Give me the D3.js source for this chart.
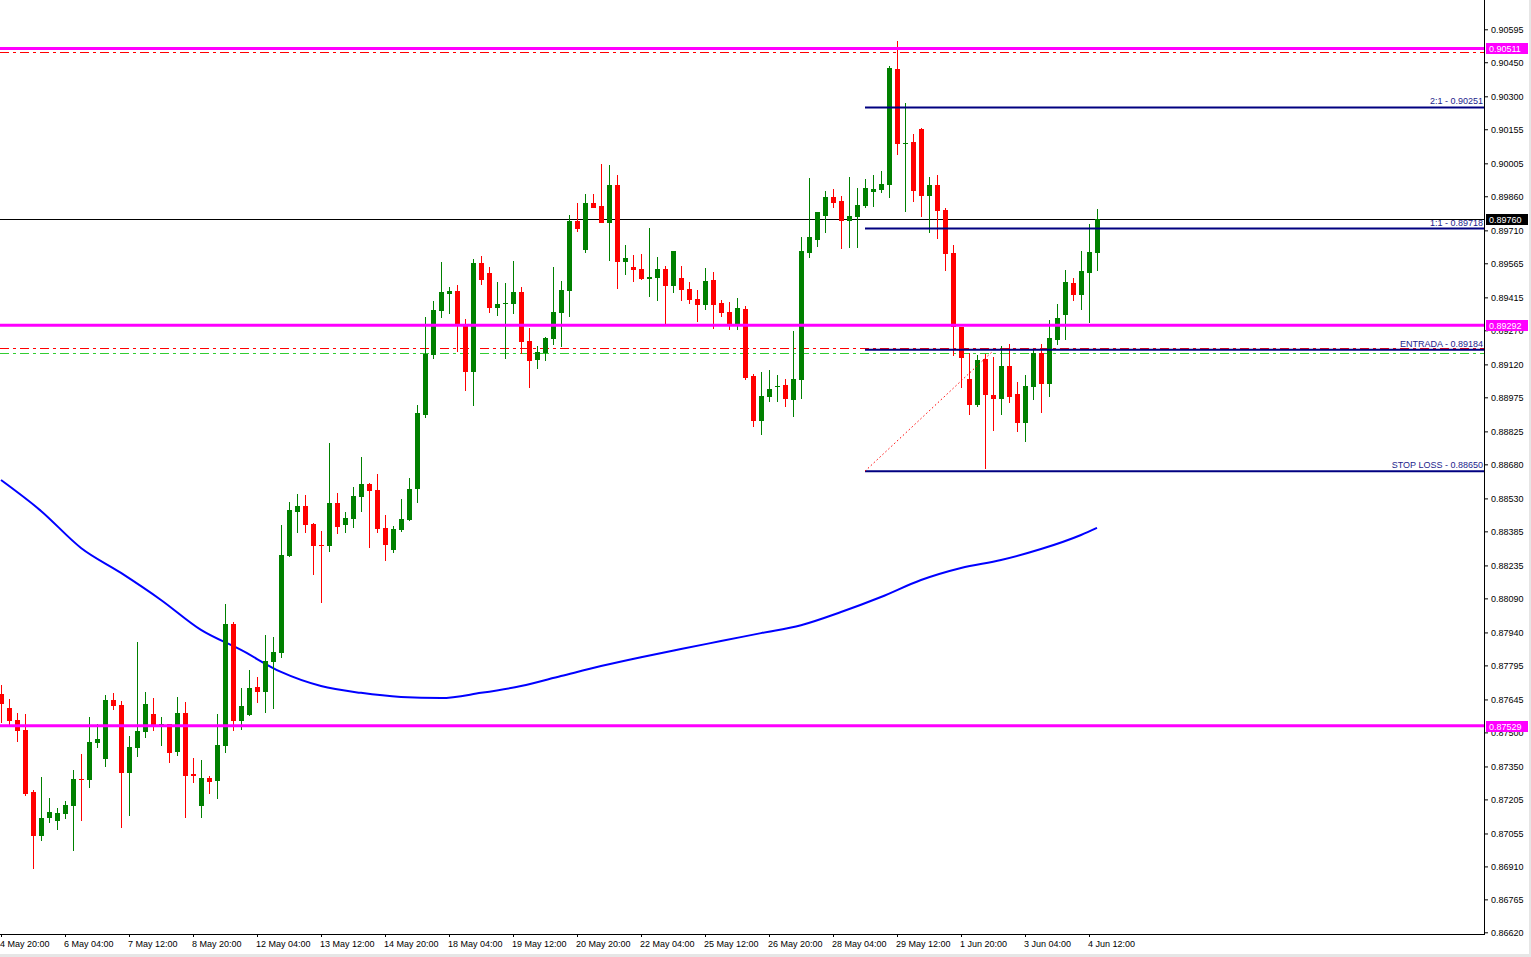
<!DOCTYPE html>
<html><head><meta charset="utf-8">
<script src="https://cdn.jsdelivr.net/npm/d3@7"></script>
<style>
html,body{margin:0;padding:0;background:#fff;}
svg{display:block;font-family:"Liberation Sans",Arial,sans-serif;}
</style></head>
<body><svg id="c" width="1531" height="957"></svg>
<script>
// ---------- DATA ----------
const timeLabels = ["4 May 20:00","6 May 04:00","7 May 12:00","8 May 20:00","12 May 04:00","13 May 12:00","14 May 20:00","18 May 04:00","19 May 12:00","20 May 20:00","22 May 04:00","25 May 12:00","26 May 20:00","28 May 04:00","29 May 12:00","1 Jun 20:00","3 Jun 04:00","4 Jun 12:00"];
const opens = [.87669,.87607,.87555,.87511,.87238,.87044,.87123,.87110,.87141,.87176,.87295,.87291,.87454,.87383,.87643,.87621,.87321,.87431,.87502,.87581,.87528,.87537,.87414,.87585,.87317,.87176,.87299,.87286,.87440,.87977,.87550,.87577,.87699,.87678,.87809,.87849,.88276,.88470,.88497,.88417,.88325,.88321,.88510,.88413,.88439,.88536,.88593,.88567,.88400,.88303,.88391,.88435,.88571,.88897,.89161,.89355,.89431,.89443,.89289,.89087,.89566,.89522,.89368,.89386,.89386,.89439,.89223,.89139,.89170,.89232,.89346,.89443,.89751,.89624,.89830,.89817,.89742,.89910,.89571,.89549,.89540,.89496,.89500,.89540,.89465,.89500,.89452,.89408,.89381,.89491,.89390,.89350,.89293,.89363,.89069,.88871,.88976,.89020,.89029,.88963,.89051,.89610,.89667,.89773,.89857,.89839,.89751,.89769,.89817,.89878,.89887,.89910,.90420,.90090,.90099,.90156,.89861,.89910,.89800,.89610,.89285,.89056,.88941,.89144,.88985,.88967,.89113,.88990,.88862,.89020,.89170,.89034,.89227,.89337,.89478,.89425,.89522,.89610];
const highs = [.87709,.87647,.87585,.87581,.87246,.87304,.87211,.87167,.87198,.87335,.87405,.87568,.87537,.87665,.87674,.87638,.87484,.87898,.87678,.87651,.87568,.87537,.87656,.87634,.87387,.87378,.87308,.87581,.88065,.87986,.87695,.87775,.87743,.87929,.87920,.88413,.88514,.88549,.88545,.88422,.88387,.88774,.88554,.88470,.88580,.88712,.88598,.88637,.88457,.88409,.88527,.88620,.88941,.89329,.89399,.89571,.89461,.89469,.89320,.89584,.89597,.89549,.89482,.89478,.89575,.89461,.89280,.89201,.89241,.89549,.89487,.89778,.89830,.89870,.89870,.90002,.89998,.89954,.89646,.89601,.89605,.89720,.89592,.89553,.89619,.89553,.89482,.89447,.89544,.89527,.89403,.89395,.89412,.89377,.89078,.89087,.89096,.89073,.89056,.89267,.89680,.89940,.89791,.89883,.89892,.89861,.89945,.89896,.89936,.89954,.89971,.90434,.90543,.90271,.90134,.90161,.89945,.89954,.89808,.89646,.89285,.89170,.89161,.89166,.89153,.89201,.89210,.89042,.89073,.89183,.89210,.89315,.89386,.89535,.89500,.89619,.89738,.89804];
const lows = [.87541,.87533,.87458,.87220,.86899,.87022,.87101,.87070,.87119,.86978,.87110,.87255,.87431,.87348,.87599,.87079,.87132,.87392,.87475,.87506,.87440,.87365,.87396,.87123,.87277,.87123,.87229,.87207,.87409,.87506,.87511,.87572,.87629,.87585,.87603,.87827,.88272,.88378,.88378,.88193,.88070,.88294,.88374,.88378,.88400,.88470,.88312,.88378,.88255,.88290,.88382,.88430,.88510,.88884,.89144,.89324,.89342,.89175,.89002,.88937,.89469,.89346,.89333,.89144,.89342,.89166,.89016,.89100,.89135,.89205,.89196,.89329,.89702,.89610,.89808,.89742,.89575,.89452,.89513,.89482,.89491,.89416,.89399,.89293,.89434,.89399,.89386,.89306,.89359,.89276,.89329,.89271,.89271,.89051,.88844,.88809,.88954,.88954,.88932,.88888,.88967,.89588,.89637,.89698,.89808,.89628,.89632,.89632,.89808,.89812,.89874,.89852,.90042,.89791,.89834,.89769,.89698,.89673,.89531,.89157,.89016,.88897,.88932,.88660,.88826,.88897,.88950,.88822,.88778,.88963,.88906,.88976,.89205,.89227,.89399,.89359,.89302,.89531];
const closes = [.87625,.87550,.87506,.87229,.87044,.87123,.87150,.87145,.87180,.87295,.87291,.87458,.87471,.87643,.87616,.87321,.87436,.87506,.87625,.87524,.87537,.87409,.87585,.87308,.87308,.87299,.87282,.87445,.87977,.87550,.87616,.87695,.87678,.87814,.87854,.88281,.88479,.88497,.88413,.88321,.88321,.88510,.88404,.88444,.88540,.88593,.88562,.88396,.88325,.88396,.88439,.88571,.88906,.89166,.89359,.89439,.89443,.89297,.89087,.89566,.89491,.89368,.89386,.89390,.89439,.89219,.89135,.89175,.89236,.89350,.89447,.89751,.89716,.89830,.89808,.89742,.89910,.89571,.89588,.89535,.89496,.89505,.89540,.89465,.89619,.89447,.89403,.89381,.89487,.89381,.89346,.89293,.89368,.89060,.88871,.88981,.89011,.89025,.88967,.89056,.89619,.89680,.89791,.89857,.89830,.89751,.89773,.89821,.89896,.89892,.89914,.90425,.90090,.90095,.89883,.89861,.89910,.89795,.89606,.89285,.89148,.88941,.89139,.88985,.88967,.89113,.88976,.88862,.89025,.89170,.89034,.89236,.89324,.89482,.89425,.89531,.89615,.89760];
const maIdx  = [0,5,10,15,20,25,30,35,40,45,50,55,60,65,70,75,80,85,90,95,100,105,110,115,120,125,130,135,137];
const maVals = [.88611,.88475,.88312,.88202,.88083,.87951,.87863,.87766,.87704,.87674,.87656,.87651,.87674,.87704,.87748,.87792,.87831,.87867,.87902,.87937,.87972,.88030,.88096,.88171,.88224,.88259,.88307,.88369,.88400];
const priceTicks = ["0.90595","0.90450","0.90300","0.90155","0.90005","0.89860","0.89710","0.89565","0.89415","0.89270","0.89120","0.88975","0.88825","0.88680","0.88530","0.88385","0.88235","0.88090","0.87940","0.87795","0.87645","0.87500","0.87350","0.87205","0.87055","0.86910","0.86765","0.86620"];
const magentaLevels = [0.90511, 0.89292, 0.87529];
const redDashLevels = [0.90495, 0.89190];
const greenDashLevels = [0.89170];
const currentPrice = 0.89760;
const tradeLabels = ["2:1 - 0.90251","1:1 - 0.89718","ENTRADA - 0.89184","STOP LOSS - 0.88650"];
const tradeLevels = [0.90251, 0.89718, 0.89184, 0.88650];
const tradeStartIdx = 108;
const trendIdx = [108, 124];
const trendVals = [0.88650, 0.89179];

// ---------- SCALES ----------
const svg = d3.select("#c");
const W = 1484, H = 934;
const x = d3.scaleLinear().domain([0, 137]).range([1, 1097]);
const y = d3.scaleLinear().domain([0.86620, 0.90595]).range([932.3, 29.3]);
const fmt = d3.format(".5f");

svg.append("rect").attr("width",1531).attr("height",957).attr("fill","#fff");
svg.append("rect").attr("x",0).attr("y",954).attr("width",1531).attr("height",3).attr("fill","#e6e6e6");
svg.append("rect").attr("x",1529).attr("y",0).attr("width",2).attr("height",957).attr("fill","#e6e6e6");

const plot = svg.append("g");
const cross = "crispEdges";

// dashed reference lines
plot.selectAll(".rd").data(redDashLevels).join("line")
  .attr("x1",0).attr("x2",W).attr("y1",d=>Math.round(y(d))+0.5).attr("y2",d=>Math.round(y(d))+0.5)
  .attr("stroke","#ff0000").attr("stroke-width",1).attr("stroke-dasharray","9,4,3,4").attr("shape-rendering",cross);
plot.selectAll(".gd").data(greenDashLevels).join("line")
  .attr("x1",0).attr("x2",W).attr("y1",d=>Math.round(y(d))+0.5).attr("y2",d=>Math.round(y(d))+0.5)
  .attr("stroke","#32cd32").attr("stroke-width",1).attr("stroke-dasharray","9,4,3,4").attr("shape-rendering",cross);

// moving average
const maData = maIdx.map((k,i)=>[k, maVals[i]]);
plot.append("path").datum(maData)
  .attr("d", d3.line().x(d=>x(d[0])).y(d=>y(d[1])).curve(d3.curveMonotoneX))
  .attr("fill","none").attr("stroke","#0000ff").attr("stroke-width",2);

// current price line
plot.append("line").attr("x1",0).attr("x2",W)
  .attr("y1",Math.round(y(currentPrice))+0.5).attr("y2",Math.round(y(currentPrice))+0.5)
  .attr("stroke","#000").attr("stroke-width",1).attr("shape-rendering",cross);

// candles
const candles = opens.map((o,i)=>({i, o, h:highs[i], l:lows[i], c:closes[i]}));
const cg = plot.append("g").attr("shape-rendering",cross);
cg.selectAll("line").data(candles).join("line")
  .attr("x1",d=>x(d.i)+0.5).attr("x2",d=>x(d.i)+0.5)
  .attr("y1",d=>y(d.h)).attr("y2",d=>y(d.l))
  .attr("stroke",d=>d.c>=d.o?"#008000":"#ff0000").attr("stroke-width",1);
cg.selectAll("rect").data(candles).join("rect")
  .attr("x",d=>x(d.i)-2).attr("width",5)
  .attr("y",d=>y(Math.max(d.o,d.c)))
  .attr("height",d=>Math.max(1, Math.abs(y(d.o)-y(d.c))))
  .attr("fill",d=>d.c>=d.o?"#008000":"#ff0000");

// magenta levels
plot.selectAll(".mg").data(magentaLevels).join("line")
  .attr("x1",0).attr("x2",W).attr("y1",d=>y(d)).attr("y2",d=>y(d))
  .attr("stroke","#ff00ff").attr("stroke-width",3);

// trade levels
plot.selectAll(".tl").data(tradeLevels).join("line")
  .attr("x1",x(tradeStartIdx)).attr("x2",W).attr("y1",d=>y(d)).attr("y2",d=>y(d))
  .attr("stroke","#000080").attr("stroke-width",2);
plot.selectAll(".tt").data(tradeLabels).join("text")
  .attr("x",W-1).attr("y",(d,i)=>y(tradeLevels[i])-3)
  .attr("text-anchor","end").attr("font-size","9px").attr("fill","#1c1c8c").text(d=>d);

// dotted trend line
plot.append("line")
  .attr("x1",x(trendIdx[0])).attr("y1",y(trendVals[0]))
  .attr("x2",x(trendIdx[1])).attr("y2",y(trendVals[1]))
  .attr("stroke","#ff0000").attr("stroke-width",1).attr("stroke-dasharray","1.5,2.5");

// frame
svg.append("line").attr("x1",W+0.5).attr("x2",W+0.5).attr("y1",0).attr("y2",H+0.5).attr("stroke","#000").attr("shape-rendering",cross);
svg.append("line").attr("x1",0).attr("x2",W+0.5).attr("y1",H+0.5).attr("y2",H+0.5).attr("stroke","#000").attr("shape-rendering",cross);

// right price axis
const yAxis = d3.axisRight(y).tickValues(priceTicks.map(Number)).tickSize(3).tickPadding(3).tickFormat(fmt);
const ya = svg.append("g").attr("transform",`translate(${W+1},0)`).call(yAxis);
ya.select(".domain").remove();
ya.selectAll("text").attr("font-size","9px").attr("font-family","'Liberation Sans',Arial,sans-serif").attr("fill","#000");
ya.selectAll("line").attr("stroke","#000");

// bottom time axis
const tickIdx = timeLabels.map((_,i)=>i*8);
const xAxis = d3.axisBottom(x).tickValues(tickIdx).tickSize(3).tickFormat((d,i)=>timeLabels[i]);
const xa = svg.append("g").attr("transform",`translate(0,${H})`).call(xAxis);
xa.select(".domain").remove();
xa.selectAll("line").attr("stroke","#000");
xa.selectAll("text").attr("font-size","9px").attr("font-family","'Liberation Sans',Arial,sans-serif")
  .attr("text-anchor","start").attr("dx","-1.5").attr("y",7).attr("fill","#000");

// price boxes
const boxes = magentaLevels.map(v=>({v, bg:"#ff00ff"})).concat([{v:currentPrice, bg:"#000"}]);
const bg = svg.append("g");
boxes.forEach(b=>{
  const yy = y(b.v);
  bg.append("rect").attr("x",W+2).attr("y",Math.round(yy)-5).attr("width",42).attr("height",11).attr("fill",b.bg);
  bg.append("text").attr("x",W+5).attr("y",Math.round(yy)+3.5).attr("font-size","9px")
    .attr("fill","#fff").text(fmt(b.v));
});
</script></body></html>
